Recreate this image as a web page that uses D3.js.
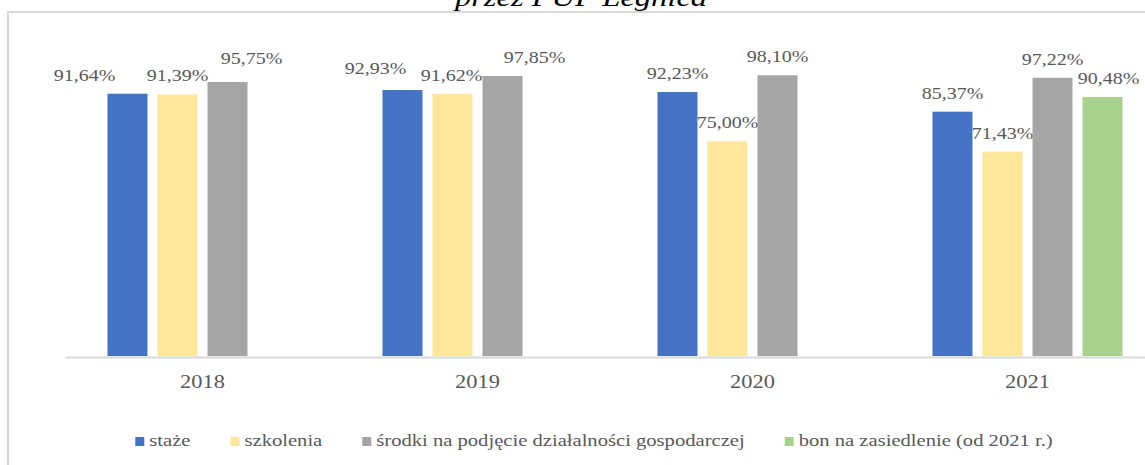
<!DOCTYPE html>
<html>
<head>
<meta charset="utf-8">
<script src="https://cdn.jsdelivr.net/npm/d3@7"></script>
<style>
  body { margin: 0; background: #fff; }
  svg { display: block; }
  svg text { font-family: "Liberation Serif", "Times New Roman", "DejaVu Serif", serif; }
</style>
</head>
<body>
<div id="chart"></div>
<script>
const years = ["2018", "2019", "2020", "2021"];
const seriesNames = [
  "staże",
  "szkolenia",
  "środki na podjęcie działalności gospodarczej",
  "bon na zasiedlenie (od 2021 r.)"
];
const staze = [91.64, 92.93, 92.23, 85.37];
const szkolenia = [91.39, 91.62, 75.0, 71.43];
const srodki = [95.75, 97.85, 98.1, 97.22];
const bon = [null, null, null, 90.48];

const colors = ["#4472C4", "#FFE699", "#A5A5A5", "#A9D18E"];

// hand-placed label nudges like in the original (dx, dy per series / year)
const labelDx = [[-43, -27, 0, 0], [0, -1, 0, 0], [24, 32, 0, 0], [0, 0, 0, 6]];
const labelDy = [[0, -3, 0, 0], [0, 0, 0, 0], [-5, 0, 0, 0], [0, 0, 0, 0]];

const width = 1145;
const height = 465;
const stretch = 1.25; // text in the source is drawn wider than normal
const serif = "'Liberation Serif', 'Times New Roman', 'DejaVu Serif', serif";

const allSeries = [staze, szkolenia, srodki, bon];

const svg = d3
  .select("#chart")
  .append("svg")
  .attr("width", width)
  .attr("height", height)
  .attr("font-family", serif);

// frame lines (top and left border of the chart box)
svg.append("line")
  .attr("x1", 7).attr("x2", width).attr("y1", 12).attr("y2", 12)
  .attr("stroke", "#d9d9d9").attr("stroke-width", 2);
svg.append("line")
  .attr("x1", 8).attr("x2", 8).attr("y1", 11).attr("y2", height)
  .attr("stroke", "#d9d9d9").attr("stroke-width", 2);

// title (cut off at the top, as in the source)
svg.append("g")
  .attr("transform", "translate(581,5.5)")
  .append("text")
  .attr("text-anchor", "middle")
  .attr("transform", `scale(${stretch},1)`)
  .style("font-size", "26px")
  .style("font-style", "italic")
  .style("font-family", serif)
  .attr("fill", "#000")
  .text("przez PUP Legnica");

const x0 = d3.scaleBand().domain(years).range([65, 1165]).paddingInner(0.309).paddingOuter(0.1545);
const x1 = d3.scaleBand().domain(d3.range(seriesNames.length)).range([0, x0.bandwidth()]).paddingInner(0.2);
const y = d3.scaleLinear().domain([0, 100]).range([356, 69.8]);

// x axis
const xAxis = d3.axisBottom(
  d3.scaleBand().domain(years).range([65, 1165])
).tickSize(0).tickSizeOuter(0);

const axisG = svg.append("g")
  .attr("transform", "translate(0,357)")
  .call(xAxis);
axisG.attr("font-family", null);
axisG.select(".domain").attr("stroke", "#d9d9d9").attr("stroke-width", 2);
axisG.selectAll("text")
  .attr("y", 31)
  .attr("dy", null)
  .attr("fill", "#595959")
  .attr("transform", "scale(1.18,1)")
  .style("font-size", "19px")
  .style("font-family", serif);

// bars
const fmt = (v) => v.toFixed(2).replace(".", ",") + "%";

allSeries.forEach(function (vals, si) {
  const items = years
    .map((yr, i) => ({ yr, i, v: vals[i] }))
    .filter((d) => d.v !== null);

  svg.append("g")
    .selectAll("rect")
    .data(items)
    .join("rect")
    .attr("x", (d) => x0(d.yr) + x1(si))
    .attr("y", (d) => y(d.v))
    .attr("width", x1.bandwidth())
    .attr("height", (d) => y(0) - y(d.v))
    .attr("fill", colors[si]);

  svg.append("g")
    .selectAll("g")
    .data(items)
    .join("g")
    .attr("transform", (d) =>
      `translate(${x0(d.yr) + x1(si) + x1.bandwidth() / 2 + labelDx[si][d.i]},${y(d.v) - 13 + labelDy[si][d.i]})`)
    .append("text")
    .attr("text-anchor", "middle")
    .attr("transform", `scale(${stretch},1)`)
    .attr("fill", "#595959")
    .style("font-size", "16px")
    .style("font-family", serif)
    .text((d) => fmt(d.v));
});

// legend
const legend = svg.append("g");
const legendItems = legend.selectAll("g")
  .data(seriesNames)
  .join("g");

legendItems.append("rect")
  .attr("width", 9)
  .attr("height", 9)
  .attr("y", 437)
  .attr("fill", (d, i) => colors[i]);

legendItems.append("g")
  .attr("transform", "translate(14,446)")
  .append("text")
  .attr("transform", `scale(${stretch},1)`)
  .attr("fill", "#595959")
  .style("font-size", "16.5px")
  .style("font-family", serif)
  .text((d) => d);

let widths = [];
legendItems.each(function () {
  const t = d3.select(this).select("text").node();
  widths.push(14 + t.getComputedTextLength() * stretch);
});
const gap = 40;
const total = d3.sum(widths) + gap * (widths.length - 1);
let cursor = 594 - total / 2;
legendItems.attr("transform", function (d, i) {
  const tx = cursor;
  cursor += widths[i] + gap;
  return `translate(${tx},0)`;
});
</script>
</body>
</html>
